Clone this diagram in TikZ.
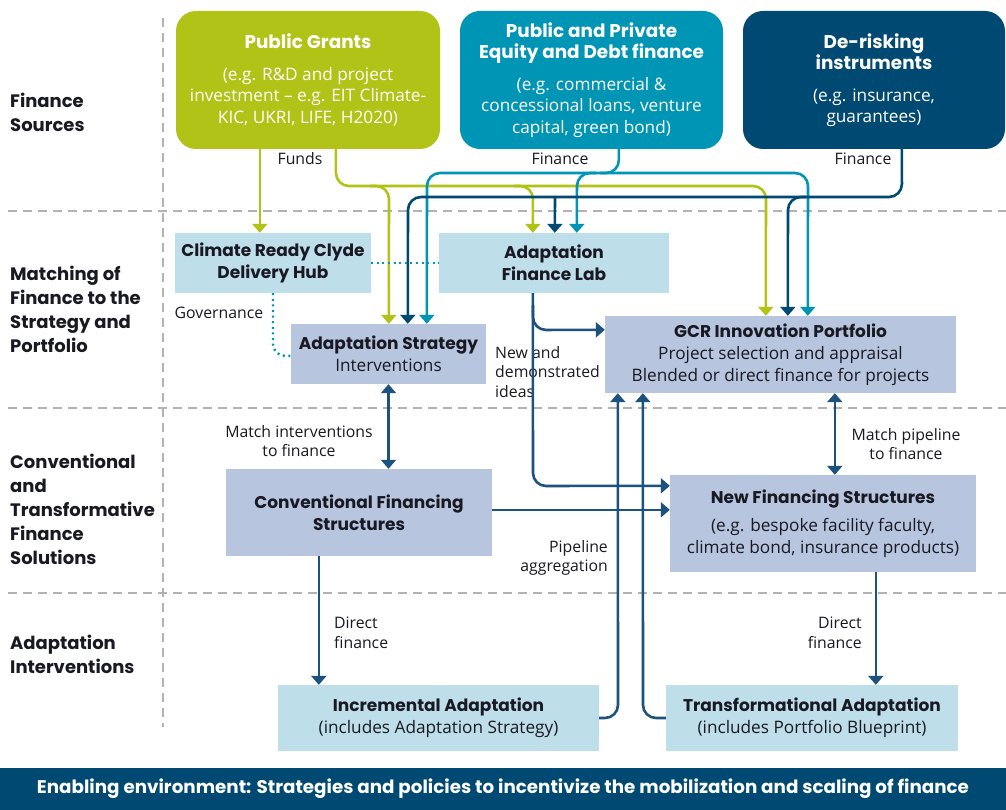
\documentclass[tikz,border=0pt]{standalone}
\usepackage{fontspec}
\setmainfont{Open Sans}
\newfontfamily\hfont{Poppins}
\usetikzlibrary{arrows.meta}
\definecolor{cgreen}{RGB}{177,195,22}
\definecolor{cteal}{RGB}{0,149,181}
\definecolor{cnavy}{RGB}{0,73,114}
\definecolor{cline}{RGB}{27,82,126}
\definecolor{clblue}{RGB}{190,222,233}
\definecolor{clav}{RGB}{183,198,222}
\definecolor{cdash}{RGB}{178,178,178}
\definecolor{ctext}{RGB}{25,25,35}
\newcommand\fszA{\normalfont\fontsize{17.2}{21.5}\selectfont}
\newcommand\fszB{\hfont\bfseries\fontsize{18.4}{23}\selectfont}
\newcommand\fszC{\hfont\bfseries\fontsize{17}{22}\selectfont}
\newcommand\fszD{\hfont\bfseries\fontsize{18}{24}\selectfont}
\newcommand\fszE{\normalfont\fontsize{15.8}{19.5}\selectfont}
\newcommand\fszF{\hfont\bfseries\fontsize{18.3}{20}\selectfont}
\begin{document}
\begin{tikzpicture}[x=1pt,y=-1pt,
 tbox/.style={rounded corners=20pt, text=white, align=center, inner sep=0pt, font=\fszA},
 lbbox/.style={fill=clblue, text=ctext, align=center, inner sep=0pt, font=\fszC},
 lvbox/.style={fill=clav, text=ctext, align=center, inner sep=0pt, font=\fszC},
 sect/.style={text=ctext, align=left, anchor=west, inner sep=0pt, font=\fszD},
 lab/.style={text=ctext, inner sep=0pt, font=\fszE},
 con/.style={line width=2.6pt, rounded corners=13pt, -{Triangle[width=15pt,length=9pt]}},
 gcon/.style={con, draw=cgreen},
 tcon/.style={con, draw=cteal},
 ncon/.style={con, draw=cnavy},
 lcon/.style={con, draw=cline},
 dbl/.style={lcon, {Triangle[width=15pt,length=9pt]}-{Triangle[width=15pt,length=9pt]}},
 dcon/.style={line width=2.4pt, draw=cteal, dash pattern=on 2pt off 3.6pt, rounded corners=12pt},
 sep/.style={draw=cdash, line width=2pt, dash pattern=on 9pt off 6pt},
]
\useasboundingbox (0,0) rectangle (1006,810);
\fill[white] (0,0) rectangle (1006,810);
% separators
\draw[sep] (8,211) -- (1006,211);
\draw[sep] (8,408) -- (1006,408);
\draw[sep] (8,593) -- (1006,593);
\draw[sep] (163,18) -- (163,727);
% section labels
\node[sect] (s1) at (10,112) {Finance\\Sources};
\node[sect] (s2) at (10,309) {Matching of\\Finance to the\\Strategy and\\Portfolio};
\node[sect] (s3) at (10,509) {Conventional\\and\\Transformative\\Finance\\Solutions};
\node[sect] (s4) at (10,654) {Adaptation\\Interventions};
% top boxes
\node[tbox, fill=cgreen, minimum width=264pt, minimum height=138pt] (pg) at (308,80)
 {\fszB Public Grants\\[10pt](e.g. R\&D and project\\investment -- e.g. EIT Climate-\\KIC, UKRI, LIFE, H2020)};
\node[tbox, fill=cteal, minimum width=263pt, minimum height=138pt] (pe) at (591.5,80)
 {\fszB Public and Private\\\fszB Equity and Debt finance\\[10pt](e.g. commercial \&\\concessional loans, venture\\capital, green bond)};
\node[tbox, fill=cnavy, minimum width=262pt, minimum height=138pt] (dr) at (874,80)
 {\fszB De-risking\\\fszB instruments\\[10pt](e.g. insurance,\\guarantees)};
% middle boxes
\node[lbbox, minimum width=196pt, minimum height=60pt] (crc) at (273,263) {Climate Ready Clyde\\Delivery Hub};
\node[lbbox, minimum width=230pt, minimum height=60pt] (afl) at (554,263) {Adaptation\\Finance Lab};
\node[lvbox, minimum width=195pt, minimum height=60pt] (as) at (388.5,354) {Adaptation Strategy\\\fszA Interventions};
\node[lvbox, minimum width=351pt, minimum height=77pt] (gcr) at (780.5,354.5) {GCR Innovation Portfolio\\\fszA Project selection and appraisal\\\fszA Blended or direct finance for projects};
\node[lvbox, minimum width=266pt, minimum height=87pt] (cfs) at (359,512.5) {Conventional Financing\\Structures};
\node[lvbox, minimum width=306pt, minimum height=97pt] (nfs) at (823,523.5) {New Financing Structures\\[6pt]\fszA (e.g. bespoke facility faculty,\\\fszA climate bond, insurance products)};
\node[lbbox, minimum width=321pt, minimum height=66pt] (ia) at (438.5,718) {Incremental Adaptation\\\fszA (includes Adaptation Strategy)};
\node[lbbox, minimum width=292pt, minimum height=66pt] (ta) at (812,718) {Transformational Adaptation\\\fszA (includes Portfolio Blueprint)};
\node[fill=cnavy, text=white, inner sep=0pt, minimum width=1006pt, minimum height=42pt, font=\fszF] (env) at (503,789)
 {Enabling environment: Strategies and policies to incentivize the mobilization and scaling of finance};
% connector labels
\node[lab] (lfunds) at (300,159) {Funds};
\node[lab] (lfin1) at (560,159) {Finance};
\node[lab] (lfin2) at (863,159) {Finance};
\node[lab] (lgov) at (219,313) {Governance};
\node[lab, align=center] (lmi) at (299,441) {Match interventions\\to finance};
\node[lab, align=left, anchor=west] (lnew) at (495,372) {New and\\demonstrated\\ideas};
\node[lab, align=right, anchor=east] (lpipe) at (608,558) {Pipeline\\aggregation};
\node[lab, align=center] (lmp) at (906,444) {Match pipeline\\to finance};
\node[lab, align=left, anchor=west] (ldf1) at (334,633) {Direct\\finance};
\node[lab, align=right, anchor=east] (ldf2) at (862,633) {Direct\\finance};
% junction coordinates
\coordinate (gj1) at (370,186);
\coordinate (gj2) at (514,186);
\coordinate (tj1) at (600,173);
\coordinate (tj2) at (596,173);
\coordinate (nj1) at (806,197);
\coordinate (nj2) at (555,197);
\coordinate (lj1) at (533,305);
% green
\draw[gcon] ([xshift=84pt]pg.south west) -- ([xshift=85pt]crc.north west);
\draw[gcon] ([xshift=160pt]pg.south west) -- (336,186) -- (766,186) -- ([xshift=161pt]gcr.north west);
\draw[gcon] (gj1) -- (389,186) -- ([xshift=98pt]as.north west);
\draw[gcon] (gj2) -- (533,186) -- ([xshift=94pt]afl.north west);
% teal
\draw[tcon] ([xshift=159pt]pe.south west) -- (619,173) -- (427,173) -- ([xshift=136pt]as.north west);
\draw[tcon] (tj1) -- (808,173) -- ([xshift=203pt]gcr.north west);
\draw[tcon] (tj2) -- (577,173) -- ([xshift=138pt]afl.north west);
% navy
\draw[ncon] ([xshift=159pt]dr.south west) -- (902,197) -- (408,197) -- ([xshift=117pt]as.north west);
\draw[ncon] (nj1) -- (788,197) -- ([xshift=183pt]gcr.north west);
\draw[ncon] (nj2) -- ([xshift=116pt]afl.north west);
% dotted
\draw[dcon] (crc.east) -- (afl.west);
\draw[dcon] (crc.south) -- (273,356) -- ([yshift=-32pt]as.north west);
% lower connectors
\draw[dbl] (as.south) -- (as.south |- cfs.north);
\draw[lcon] ([xshift=94pt]afl.south west) -- (533,486) -- ([yshift=-11pt]nfs.north west);
\draw[lcon] (lj1) -- (533,330) -- ([yshift=-14pt]gcr.north west);
\draw[lcon] ([yshift=-41pt]cfs.north east) -- ([yshift=-35pt]nfs.north west);
\draw[lcon] (ia.east) -- (618,718) -- ([xshift=13pt]gcr.south west);
\draw[lcon] (ta.west) -- (643,718) -- ([xshift=38pt]gcr.south west);
\draw[dbl] ([xshift=230pt]gcr.south west) -- ([xshift=165pt]nfs.north west);
\draw[lcon] ([xshift=93pt]cfs.south west) -- ([xshift=41pt]ia.north west);
\draw[lcon] ([xshift=206pt]nfs.south west) -- ([xshift=210pt]ta.north west);
\end{tikzpicture}
\end{document}
